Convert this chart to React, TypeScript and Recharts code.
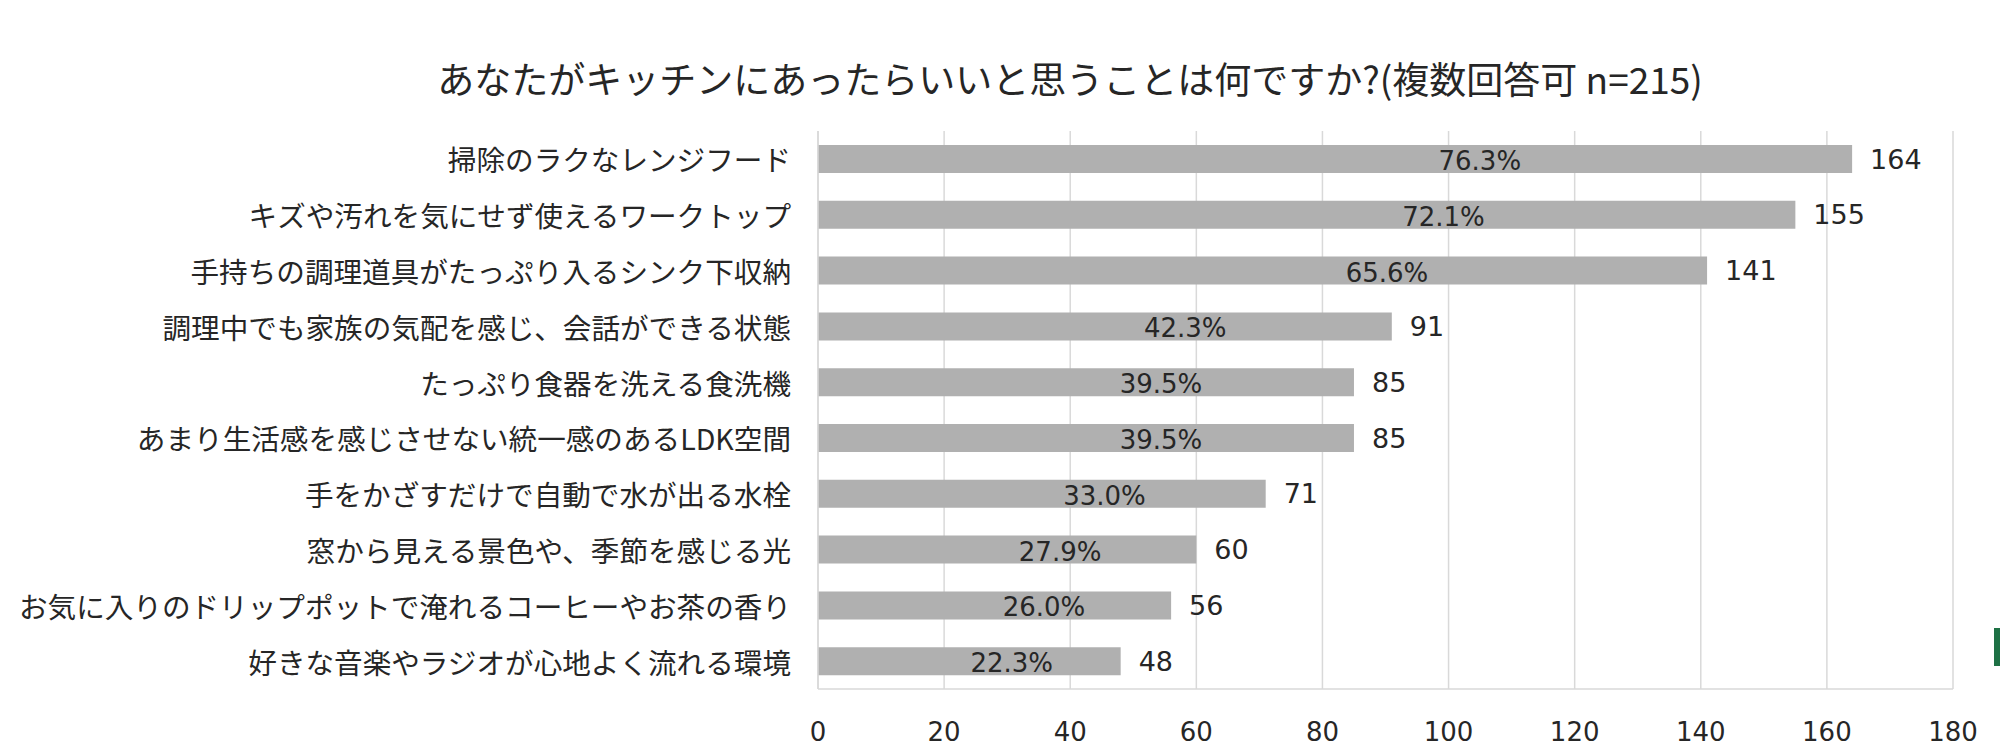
import React from "react";
import { BarChart, Bar, XAxis, YAxis, CartesianGrid, LabelList } from "recharts";

const categories = [
  "掃除のラクなレンジフード",
  "キズや汚れを気にせず使えるワークトップ",
  "手持ちの調理道具がたっぷり入るシンク下収納",
  "調理中でも家族の気配を感じ、会話ができる状態",
  "たっぷり食器を洗える食洗機",
  "あまり生活感を感じさせない統一感のあるLDK空間",
  "手をかざすだけで自動で水が出る水栓",
  "窓から見える景色や、季節を感じる光",
  "お気に入りのドリップポットで淹れるコーヒーやお茶の香り",
  "好きな音楽やラジオが心地よく流れる環境",
];
const counts = [164, 155, 141, 91, 85, 85, 71, 60, 56, 48];
const percents = [76.3, 72.1, 65.6, 42.3, 39.5, 39.5, 33.0, 27.9, 26.0, 22.3];
const xTicks = [0, 20, 40, 60, 80, 100, 120, 140, 160, 180];

const data = categories.map((name, i) => ({ name, count: counts[i], pct: percents[i] }));

const JP = "'Noto Sans CJK JP', 'Noto Sans', sans-serif";
const NUM = "'DejaVu Sans', Verdana, sans-serif";
const TEXT = "#262626";

const CategoryTick = (props: any) => {
  const { x, y, payload } = props;
  return (
    <text x={x} y={y} textAnchor="end" dominantBaseline="central" fontSize={28.6} fill={TEXT} fontFamily={JP}>
      {payload.value}
    </text>
  );
};

const NumberTick = (props: any) => {
  const { x, y, payload } = props;
  return (
    <text x={x} y={y + 41} textAnchor="middle" dominantBaseline="central" fontSize={26} fill={TEXT} fontFamily={NUM}>
      {payload.value}
    </text>
  );
};

// percentage sits inside the bar, a bit past its middle
const PctLabel = (props: any) => {
  const { x, y, width, height, value } = props;
  return (
    <text
      x={x + width * 0.64}
      y={y + height / 2 + 2}
      textAnchor="middle"
      dominantBaseline="central"
      fontSize={26}
      fill={TEXT}
      fontFamily={NUM}
    >
      {Number(value).toFixed(1)}%
    </text>
  );
};

export default function App() {
  return (
    <div style={{ position: "absolute", left: 0, top: 0, width: 2000, height: 755, background: "#fff" }}>
      <div
        style={{
          position: "absolute",
          left: 1070,
          top: 60,
          transform: "translateX(-50%)",
          whiteSpace: "nowrap",
          fontFamily: JP,
          fontSize: 37,
          lineHeight: "37px",
          color: TEXT,
        }}
      >
        あなたがキッチンにあったらいいと思うことは何ですか?(複数回答可 n=215)
      </div>
      <BarChart
        width={2000}
        height={755}
        data={data}
        layout="vertical"
        margin={{ top: 131, right: 47, bottom: 6, left: 0 }}
        barCategoryGap="50%"
      >
        <CartesianGrid horizontal={false} stroke="#d9d9d9" strokeWidth={1.5} />
        <XAxis
          type="number"
          domain={[0, 180]}
          ticks={xTicks}
          height={60}
          axisLine={{ stroke: "#d9d9d9", strokeWidth: 1.5 }}
          tickLine={false}
          tickSize={0}
          tick={<NumberTick />}
          interval={0}
        />
        <YAxis
          type="category"
          dataKey="name"
          width={818}
          axisLine={{ stroke: "#d9d9d9", strokeWidth: 1.5 }}
          tickLine={false}
          tickSize={0}
          tickMargin={27}
          tick={<CategoryTick />}
          interval={0}
        />
        <Bar dataKey="count" fill="#b0b0b0" barSize={28} isAnimationActive={false}>
          <LabelList dataKey="pct" content={<PctLabel />} />
          <LabelList
            dataKey="count"
            position="right"
            offset={18}
            fontSize={27}
            fill={TEXT}
            fontFamily={NUM}
          />
        </Bar>
      </BarChart>
      <div style={{ position: "absolute", left: 1994, top: 628, width: 6, height: 38, background: "#1e7145" }} />
    </div>
  );
}
